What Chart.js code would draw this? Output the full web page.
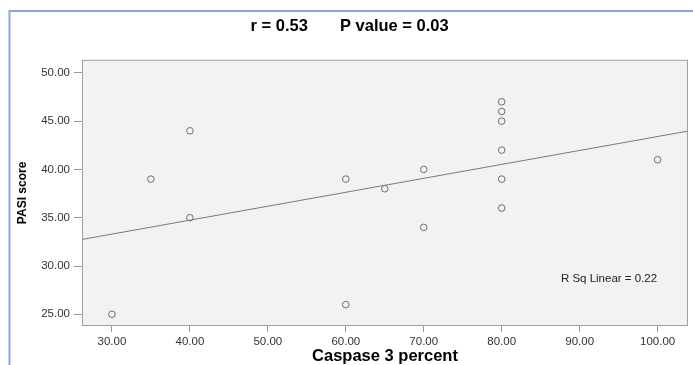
<!DOCTYPE html>
<html><head><meta charset="utf-8">
<script src="https://cdn.jsdelivr.net/npm/chart.js@4.4.1/dist/chart.umd.min.js"></script>
<style>html,body{margin:0;padding:0;background:#fff;overflow:hidden}#wrap{position:relative;width:693px;height:365px}</style>
</head><body><div id="wrap"><canvas id="c" width="693" height="365"></canvas></div>
<script>
// ---- data ----
const caspase = [30, 35, 40, 40, 60, 60, 65, 70, 70, 80, 80, 80, 80, 80, 80, 100];
const pasi    = [25, 39, 44, 35, 39, 26, 38, 40, 34, 47, 46, 45, 42, 39, 36, 41];
const fitX = [26.16, 103.9];
const fitY = [32.75, 43.97];
const xTicks = [30, 40, 50, 60, 70, 80, 90, 100];
const yTicks = [25, 30, 35, 40, 45, 50];
const titleText = 'r = 0.53       P value = 0.03';
const rsqText = 'R Sq Linear = 0.22';
const xTitle = 'Caspase 3 percent';
const yTitle = 'PASI score';

const FONT = "'Liberation Sans', Arial, sans-serif";

const deco = {
  id: 'deco',
  beforeDraw(chart) {
    const {ctx, chartArea: a} = chart;
    ctx.save();
    ctx.fillStyle = '#f2f2f4';
    ctx.fillRect(a.left, a.top, a.right - a.left, a.bottom - a.top);
    ctx.restore();
  },
  afterDraw(chart) {
    const {ctx, chartArea: a} = chart;
    ctx.save();
    ctx.strokeStyle = '#a0a0a0';
    ctx.lineWidth = 1;
    ctx.strokeRect(a.left + 0.5, a.top + 0.5, a.right - a.left - 1, a.bottom - a.top - 1);
    ctx.strokeStyle = '#8ca5d8';
    ctx.lineWidth = 2;
    ctx.beginPath();
    ctx.moveTo(9.5, 365);
    ctx.lineTo(9.5, 11);
    ctx.lineTo(693, 11);
    ctx.stroke();
    ctx.fillStyle = '#222';
    ctx.font = "11.5px " + FONT;
    ctx.textAlign = 'center';
    ctx.textBaseline = 'middle';
    ctx.fillText(rsqText, a.right - 79, a.top + 219);
    ctx.restore();
  }
};

new Chart(document.getElementById('c'), {
  type: 'scatter',
  data: {
    datasets: [
      {
        type: 'line',
        data: fitX.map((x, i) => ({x, y: fitY[i]})),
        borderColor: '#7a7a7a',
        borderWidth: 1,
        pointRadius: 0,
        fill: false,
        tension: 0
      },
      {
        data: caspase.map((x, i) => ({x, y: pasi[i]})),
        pointStyle: 'circle',
        pointRadius: 3.3,
        borderColor: '#6e6e6e',
        borderWidth: 1,
        backgroundColor: 'rgba(0,0,0,0)'
      }
    ]
  },
  options: {
    responsive: false,
    animation: false,
    events: [],
    layout: {padding: {left: 0, right: 3, top: 0, bottom: 0}},
    plugins: {
      legend: {display: false},
      tooltip: {enabled: false},
      title: {
        display: true,
        text: '  ' + titleText,
        color: '#000',
        font: {family: FONT, size: 16.5, weight: 'bold', lineHeight: 1.2},
        padding: {top: 17, bottom: 23}
      }
    },
    scales: {
      x: {
        type: 'linear',
        min: 26.16, max: 103.9,
        afterBuildTicks: s => { s.ticks = xTicks.map(v => ({value: v})); },
        afterFit: s => { s.height = 39; },
        ticks: {
          color: '#333',
          font: {family: FONT, size: 11.5},
          padding: 3,
          maxRotation: 0,
          autoSkip: false,
          callback: v => Number(v).toFixed(2)
        },
        grid: {drawOnChartArea: false, color: '#999', tickLength: 6},
        border: {display: false},
        title: {
          display: true,
          text: xTitle,
          color: '#000',
          font: {family: FONT, size: 16.5, weight: 'bold', lineHeight: 1},
          padding: {top: 0, bottom: 0}
        }
      },
      y: {
        type: 'linear',
        min: 23.79, max: 51.35,
        afterBuildTicks: s => { s.ticks = yTicks.map(v => ({value: v})); },
        afterFit: s => { s.width = 82; },
        ticks: {
          color: '#333',
          font: {family: FONT, size: 11.5},
          padding: 4,
          autoSkip: false,
          callback: v => Number(v).toFixed(2)
        },
        grid: {drawOnChartArea: false, color: '#999', tickLength: 8},
        border: {display: false},
        title: {
          display: true,
          text: yTitle,
          color: '#000',
          font: {family: FONT, size: 12, weight: 'bold', lineHeight: 1.2},
          padding: {top: 15, bottom: 0}
        }
      }
    }
  },
  plugins: [deco]
});
</script>
</body></html>
